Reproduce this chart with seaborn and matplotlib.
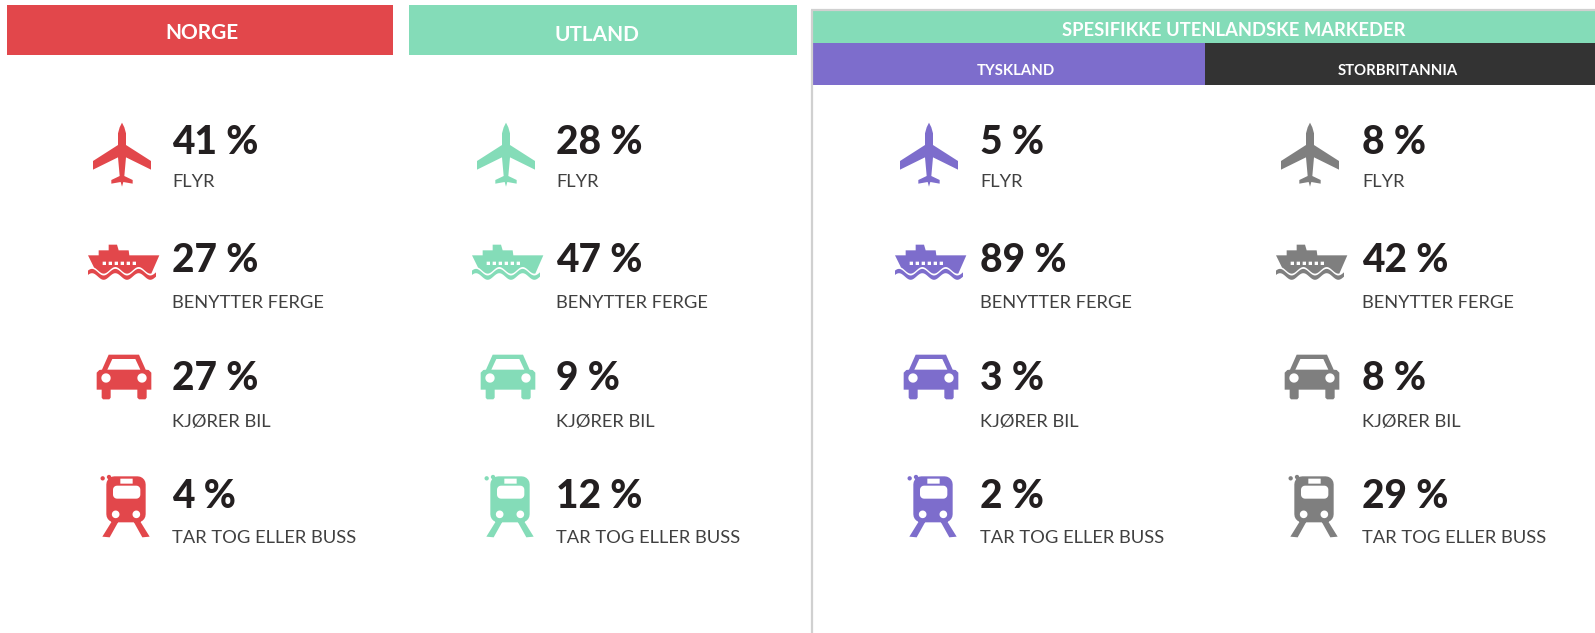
import numpy as np
import pandas as pd
import matplotlib
matplotlib.use('Agg')
import matplotlib.pyplot as plt
import seaborn as sns
from matplotlib.markers import MarkerStyle
from matplotlib.patches import Rectangle
from matplotlib.path import Path

markets = ['NORGE', 'UTLAND', 'TYSKLAND', 'STORBRITANNIA']
modes = ['FLYR', 'BENYTTER FERGE', 'KJØRER BIL', 'TAR TOG ELLER BUSS']
norge = [41, 27, 27, 4]
utland = [28, 47, 9, 12]
tyskland = [5, 89, 3, 2]
storbritannia = [8, 42, 8, 29]

sns.set_theme(style='white')
plt.rcParams['font.family'] = ['Lato', 'DejaVu Sans']

W, H = 1595, 633
RED, GREEN, PURPLE, DARK, GREY = '#E2474B', '#84DCB8', '#7D6DCC', '#333333', '#7F7F7F'
palette = dict(zip(markets, [RED, GREEN, PURPLE, GREY]))
icon_x = dict(zip(markets, [122, 506, 929, 1310]))
text_x = dict(zip(markets, [172, 556, 980, 1362]))
icon_y = dict(zip(modes, [154, 263, 377, 506]))
value_y = dict(zip(modes, [143, 261, 379, 496]))
label_y = dict(zip(modes, [182, 303, 422, 538]))

df = pd.DataFrame({
    'market': np.repeat(markets, len(modes)),
    'mode': modes * len(markets),
    'share': norge + utland + tyskland + storbritannia,
})
df['ix'] = df['market'].map(icon_x)
df['iy'] = df['mode'].map(icon_y)

CX = 156  # icon origin in the 3x crop, same for all icons


def zoomed(points, cy):
    return [((x - CX) / 3, (cy - y) / 3) for x, y in points]


def area(poly):
    p = np.array(poly)
    return 0.5 * np.sum(p[:, 0] * np.roll(p[:, 1], -1) - np.roll(p[:, 0], -1) * p[:, 1])


def ring(poly, ccw=True):
    # holes need the opposite winding to stay white
    return poly if (area(poly) > 0) == ccw else poly[::-1]


def circle(x, y, r, cy, n=24):
    t = np.linspace(0, 2 * np.pi, n, endpoint=False)
    return zoomed([(x + r * np.cos(a), y + r * np.sin(a)) for a in t], cy)


def rounded(x0, y0, x1, y1, r, cy, n=6):
    pts = []
    for ax_, ay_, start in [(x1 - r, y1 - r, 0), (x0 + r, y1 - r, 90), (x0 + r, y0 + r, 180), (x1 - r, y0 + r, 270)]:
        for a in np.radians(np.linspace(start, start + 90, n)):
            pts.append((ax_ + r * np.cos(a), ay_ + r * np.sin(a)))
    return zoomed(pts, cy)


def build(solid, holes=()):
    verts, codes = [], []
    for poly, ccw in [(p, True) for p in solid] + [(p, False) for p in holes]:
        poly = ring(poly, ccw)
        verts += list(poly) + [poly[0]]
        codes += [Path.MOVETO] + [Path.LINETO] * (len(poly) - 1) + [Path.CLOSEPOLY]
    path = Path(np.array(verts, dtype=float), codes)
    size_px = 2 * np.max(np.abs(path.vertices))
    return MarkerStyle(path), (size_px * 72 / 100) ** 2


def plane_icon():
    half = [(156, 68), (163, 82), (168, 100), (168, 135), (243, 183), (243, 209), (168, 172),
            (163, 228), (188, 240), (188, 251), (160, 246), (156, 260)]
    mirror = [(312 - x, y) for x, y in half[-2:0:-1]]
    return build([zoomed(half + mirror, 162)])


def ship_icon():
    cy = 489
    xs = np.arange(54, 260, 4)
    swell = -10 * np.cos((xs - 136) * 2 * np.pi / 70)
    upper = [(x, 523 + s - 6.5) for x, s in zip(xs, swell)]
    lower = [(x, 523 + s + 6.5) for x, s in zip(xs[::-1], swell[::-1])]
    hx = np.arange(72, 246, 4)
    keel = [(x, 511 - 10 * np.cos((x - 136) * 2 * np.pi / 70)) for x in hx[::-1]]
    hull = [(54, 466), (86, 466), (86, 451), (116, 451), (116, 434), (141, 434), (146, 451), (176, 451),
            (178, 466), (268, 466)] + keel
    windows = [zoomed([(x, 485), (x + 10, 485), (x + 10, 495), (x, 495)], cy) for x in np.arange(98, 206, 18)]
    return build([zoomed(hull, cy), zoomed(upper + lower, cy)], windows)


def car_icon():
    cy = 141
    body = [(116, 74), (207, 74), (227, 119), (236, 120), (244, 128), (244, 179), (230, 179), (230, 203),
            (226, 208), (207, 208), (202, 203), (202, 179), (122, 179), (122, 203), (118, 208), (99, 208),
            (95, 203), (95, 179), (80, 179), (80, 128), (88, 120), (96, 119)]
    glass = [(127, 87), (196, 87), (211, 119), (112, 119)]
    lights = [circle(108, 144, 14, cy), circle(216, 144, 14, cy)]
    return build([zoomed(body, cy)], [zoomed(glass, cy)] + lights)


def train_icon():
    cy = 528
    body = rounded(109, 439, 227, 577, 24, cy)
    window = rounded(129, 467, 211, 506, 12, cy)
    slot = zoomed([(151, 446), (188, 446), (188, 461), (151, 461)], cy)
    lamps = [circle(137, 553, 11.5, cy), circle(199, 553, 11.5, cy)]
    left_leg = zoomed([(128, 570), (148, 570), (119, 622), (97, 620)], cy)
    right_leg = zoomed([(208, 570), (188, 570), (217, 622), (239, 620)], cy)
    dots = [circle(98, 445, 6.5, cy), circle(117, 441, 6.5, cy)]
    return build([body, left_leg, right_leg] + dots, [window, slot] + lamps)


icons = dict(zip(modes, [plane_icon(), ship_icon(), car_icon(), train_icon()]))

fig = plt.figure(figsize=(W / 100, H / 100), dpi=100)
ax = fig.add_axes([0, 0, 1, 1])

for m in modes:
    marker, size = icons[m]
    sns.scatterplot(data=df[df['mode'] == m], x='ix', y='iy', hue='market', palette=palette,
                    marker=marker, s=size, linewidth=0, edgecolor='none', legend=False, ax=ax)

for _, row in df.iterrows():
    tx = text_x[row['market']]
    ax.text(tx, value_y[row['mode']], f"{row['share']} %", fontsize=28, fontweight=900,
            color='#231F20', va='center', ha='left')
    ax.text(tx, label_y[row['mode']], row['mode'], fontsize=13.2, color='#404040', va='center', ha='left')

# header bands
bands = [(7, 5, 386, 50, RED), (409, 5, 388, 50, GREEN), (813, 11, 782, 32, GREEN),
         (813, 43, 392, 42, PURPLE), (1205, 43, 390, 42, DARK)]
for x, y, w, h, c in bands:
    ax.add_patch(Rectangle((x, y), w, h, facecolor=c, edgecolor='none'))
ax.plot([812, 812], [10, H], color='#D0D0D0', lw=1.6, solid_capstyle='butt')
ax.plot([811, W], [10, 10], color='#D0D0D0', lw=1.6, solid_capstyle='butt')

ax.text(202, 33, 'NORGE', color='white', fontweight='bold', fontsize=15, ha='center', va='center')
ax.text(597, 35, 'UTLAND', color='white', fontweight='bold', fontsize=15, ha='center', va='center')
ax.text(1234, 30, 'SPESIFIKKE UTENLANDSKE MARKEDER', color='white', fontweight='bold', fontsize=13.2,
        ha='center', va='center')
ax.text(1016, 71, 'TYSKLAND', color='white', fontweight='bold', fontsize=10.7, ha='center', va='center')
ax.text(1398, 71, 'STORBRITANNIA', color='white', fontweight='bold', fontsize=10.7, ha='center', va='center')

ax.set_xlim(0, W)
ax.set_ylim(H, 0)
ax.set_axis_off()
fig.savefig('out.png', dpi=100, facecolor='white')
